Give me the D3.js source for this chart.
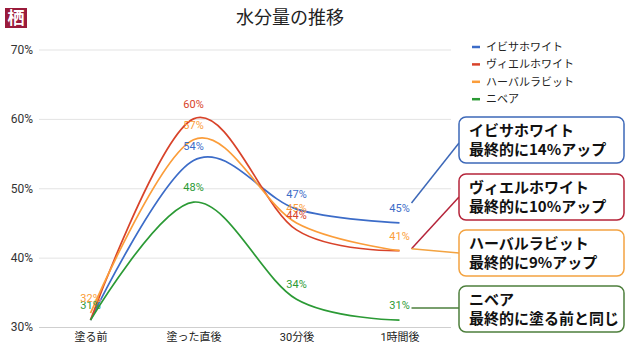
<!DOCTYPE html>
<html><head><meta charset="utf-8">
<script src="https://cdn.jsdelivr.net/npm/d3@7"></script>
<style>
html,body{margin:0;padding:0;background:#fff;}
svg{display:block;font-family:Roboto,"Noto Sans CJK JP",sans-serif;}
</style></head>
<body>
<svg id="c" width="639" height="354"></svg>
<script>
const categories = ["塗る前","塗った直後","30分後","1時間後"];
const seriesNames = ["イビサホワイト","ヴィエルホワイト","ハーバルラビット","ニベア"];
const ibiza = [31,54,47,45];
const vielle = [31,60,44,41];
const herbal = [32,57,45,41];
const nivea = [31,48,34,31];
const yTicks = [30,40,50,60,70];
const noteLine1 = ["イビサホワイト","ヴィエルホワイト","ハーバルラビット","ニベア"];
const noteLine2 = ["最終的に14%アップ","最終的に10%アップ","最終的に9%アップ","最終的に塗る前と同じ"];
const titleText = "水分量の推移";

const values = [ibiza, vielle, herbal, nivea];
const colors = ["#3c6cc8","#d8432a","#fb9d3a","#2b9a35"];
const boxColors = ["#3d68b8","#b5243a","#f3a341","#4d7f3c"];

const svg = d3.select("#c");
const x = d3.scalePoint().domain(categories).range([39,451]).padding(0.5);
const y = d3.scaleLinear().domain([30,70]).range([327,49.5]);

// logo
svg.append("rect").attr("x",5).attr("y",8).attr("width",22).attr("height",20).attr("fill","#9a1b3b");
svg.append("text").attr("x",16).attr("y",24).attr("text-anchor","middle").attr("fill","#fff")
  .attr("font-size",17).attr("font-family","'Noto Sans CJK JP'").attr("font-weight","bold").text("栖");

// title
svg.append("text").attr("x",290).attr("y",24).attr("text-anchor","middle").attr("font-size",18)
  .attr("fill","#222").attr("font-family","'Noto Sans CJK JP'").text(titleText);

// grid
const yAxis = d3.axisLeft(y).tickValues(yTicks).tickSize(-(451-39)).tickFormat(d=>d+"%");
const gy = svg.append("g").attr("transform","translate(39,0)").call(yAxis);
gy.select(".domain").remove();
gy.selectAll(".tick line").attr("stroke",d=>d===30?"#cfcfcf":"#e3e3e3").attr("stroke-width",1);
gy.selectAll(".tick text").attr("x",-6).attr("font-size",12).attr("fill","#333").attr("font-family","Roboto,sans-serif");

// x axis labels
const xAxis = d3.axisBottom(x).tickSize(0);
const gx = svg.append("g").attr("transform","translate(0,327)").call(xAxis);
gx.select(".domain").remove();
gx.selectAll(".tick text").attr("y",6).attr("font-size",11).attr("fill","#222").attr("font-family","Roboto,'Noto Sans CJK JP',sans-serif");

// lines
const line = d3.line().x((d,i)=>x(categories[i])).y(d=>y(d)).curve(d3.curveCardinal.tension(0));
values.forEach((v,k)=>{
  svg.append("path").attr("d",line(v)).attr("fill","none").attr("stroke",colors[k]).attr("stroke-width",1.7);
});

// data labels: hide labels that would sit on top of an already shown one (like the chart tool does)
const priority = [3,2,0,1];
const shown = categories.map(()=>[]);
const labelItems = [];
priority.forEach(k=>{
  values[k].forEach((d,i)=>{
    const ly = y(d)-11;
    if (shown[i].some(s=>Math.abs(s-ly)<4)) return;
    shown[i].push(ly);
    labelItems.push({k, i, d, ly});
  });
});
svg.append("g").selectAll("text").data(labelItems).join("text")
  .attr("x",o=>x(categories[o.i])).attr("y",o=>o.ly)
  .attr("text-anchor","middle").attr("font-size",11).attr("fill",o=>colors[o.k]).text(o=>o.d+"%");

// legend
const lg = svg.append("g");
seriesNames.forEach((n,k)=>{
  const yy = 47 + k*17.4;
  lg.append("line").attr("x1",472).attr("x2",480).attr("y1",yy).attr("y2",yy).attr("stroke",colors[k]).attr("stroke-width",2.5);
  lg.append("text").attr("x",486).attr("y",yy+4).attr("font-size",11).attr("fill","#222").text(n);
});

// annotation boxes
const boxTop = [117,174,230,286];
const startOff = [-20,-2,-2,-12];
const endY = [143,197,253,308];
values.forEach((v,k)=>{
  const last = v[v.length-1];
  svg.append("line").attr("x1",x(categories[3])+12).attr("y1",y(last)+startOff[k])
    .attr("x2",459).attr("y2",endY[k]).attr("stroke",boxColors[k]).attr("stroke-width",1.5);
  svg.append("rect").attr("x",459).attr("y",boxTop[k]).attr("width",165).attr("height",46)
    .attr("rx",7).attr("fill","#fff").attr("stroke",boxColors[k]).attr("stroke-width",1.5);
  svg.append("text").attr("x",469).attr("y",boxTop[k]+19).attr("font-size",15).attr("font-weight","bold")
    .attr("fill","#111").attr("font-family","'Noto Sans CJK JP',sans-serif").text(noteLine1[k]);
  svg.append("text").attr("x",469).attr("y",boxTop[k]+38).attr("font-size",15).attr("font-weight","bold")
    .attr("fill","#111").attr("font-family","'Noto Sans CJK JP',sans-serif").text(noteLine2[k]);
});
</script>
</body></html>
